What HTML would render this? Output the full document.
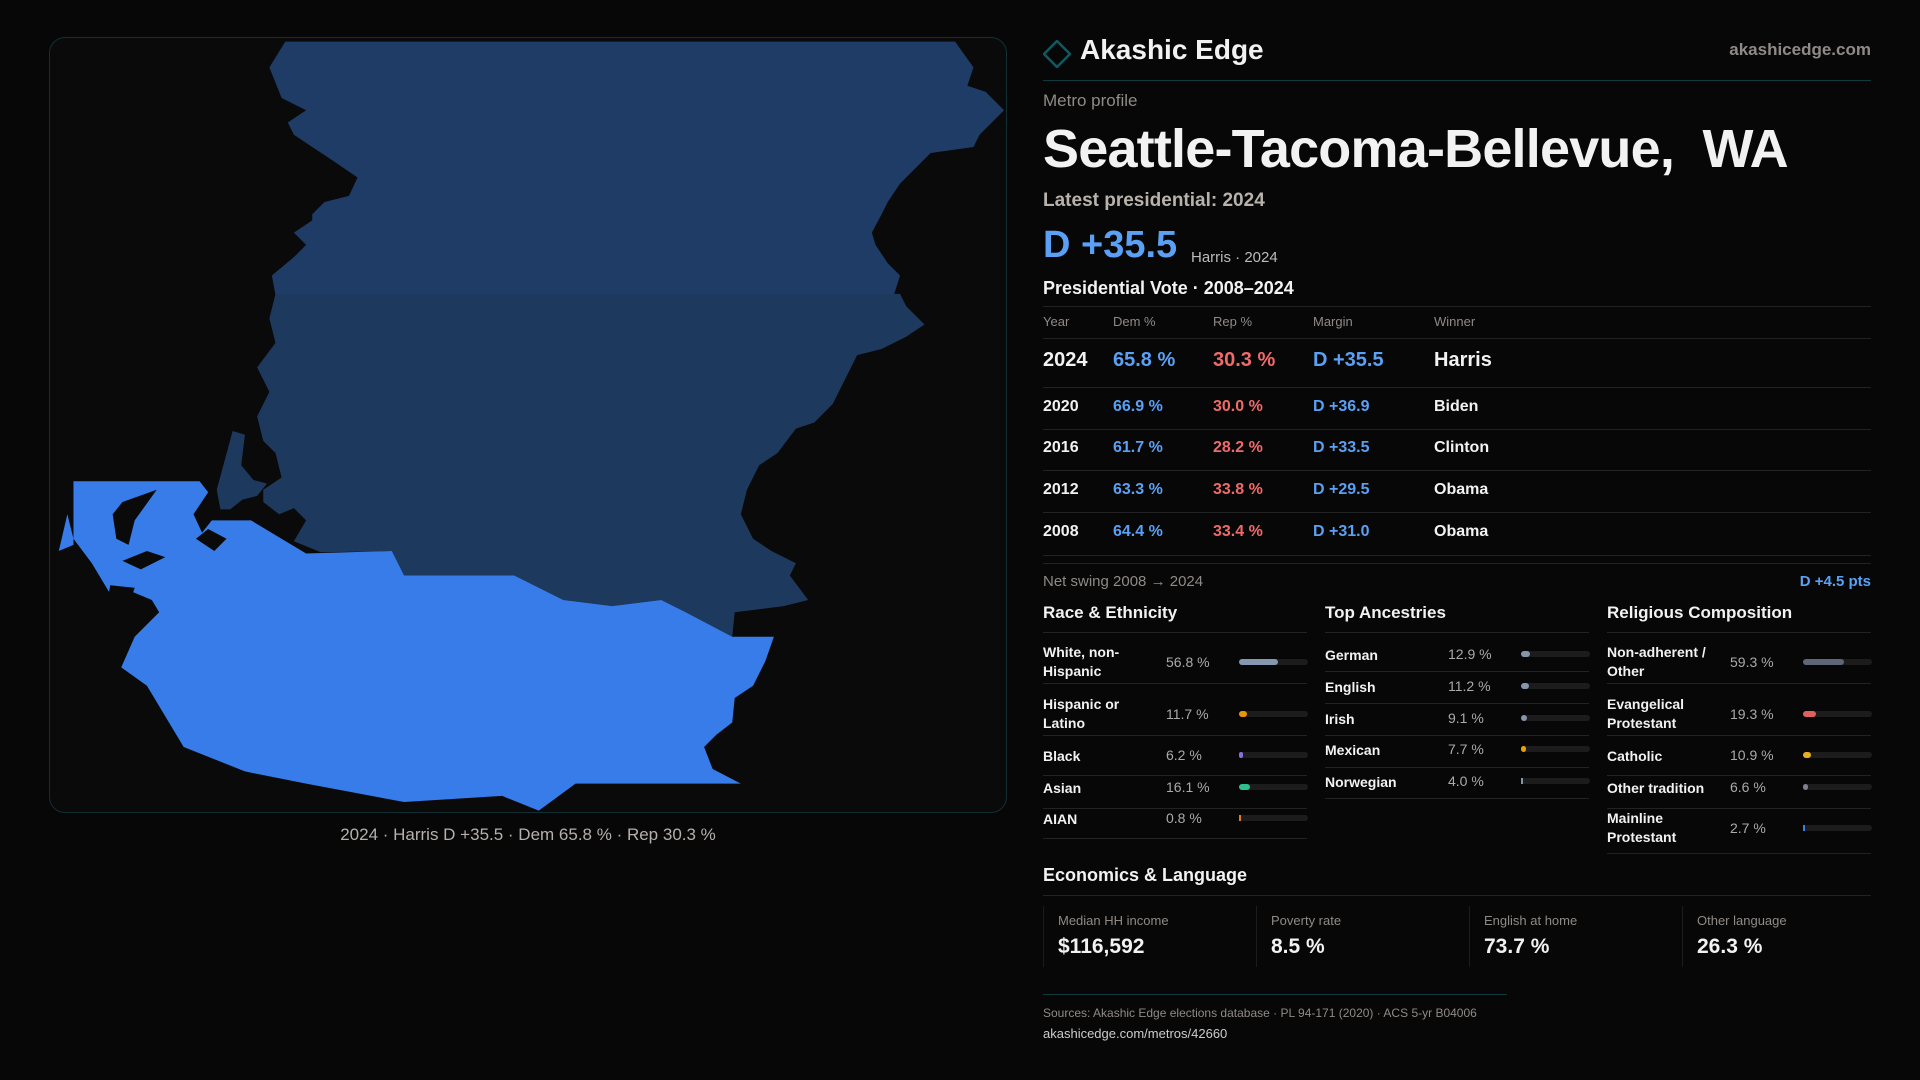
<!DOCTYPE html>
<html><head><meta charset="utf-8">
<style>
*{margin:0;padding:0;box-sizing:border-box}
body{width:1920px;height:1080px;background:#070707;font-family:"Liberation Sans",sans-serif;color:#f2f2f2;position:relative;overflow:hidden}
.a{position:absolute;white-space:nowrap}
.dim{color:#8f8a86}
.blue{color:#5aa0f5}
.red{color:#f06a6a}
.hl{position:absolute;height:1px;background:#222}
.bar{position:absolute;height:6px;border-radius:3px;background:#1c1c1c;width:69px}
.bar i{position:absolute;left:0;top:0;height:6px;border-radius:3px;display:block}
</style></head><body>
<div class="a" style="left:49px;top:37px;width:958px;height:776px;border:1px solid #123034;border-radius:16px;background:#0a0a0a"></div>
<svg style="position:absolute;left:0;top:0" width="1920" height="1080" viewBox="0 0 1568 882">
<polygon fill="#1f3c66" points="233,34 780,34 795,55 790,70 805,75 820,90 800,110 795,120 760,125 745,140 735,150 725,165 720,175 712,190 715,200 725,215 735,225 730,241 225,241 222,225 240,210 250,200 240,190 255,180 255,175 265,165 285,160 292,145 270,130 255,120 240,110 235,100 250,90 230,80 220,55"/>
<polygon fill="#1e395e" points="225,240 735,240 740,250 755,265 740,275 720,285 700,290 690,310 680,330 665,345 650,350 635,370 620,380 610,400 605,420 615,440 630,450 650,460 645,470 660,490 640,495 600,500 598,520 560,500 540,490 500,495 460,490 440,480 420,470 330,470 320,450 262,451 240,442 250,425 240,415 228,420 215,410 215,400 230,390 225,370 215,360 210,340 220,320 210,300 225,280 220,260"/>
<polygon fill="#1e395e" points="190,352 200,355 197,380 207,392 218,395 210,405 198,408 188,416 180,416 177,400"/>
<polygon fill="#377ce9" points="60,393 163,393 170,402 158,420 165,435 173,425 205,425 250,452 320,450 330,470 420,470 440,480 460,490 500,495 540,490 560,500 598,520 632,520 625,540 615,560 600,570 598,590 585,600 575,610 582,628 605,640 470,640 440,662 410,650 330,655 250,640 200,630 150,610 120,560 99,545 110,520 130,500 124,490 100,480 90,485 75,460 60,440 55,420 48,450 60,445"/>
<polygon fill="#0a0a0a" points="100,410 128,400 110,425 105,445 95,440 92,420"/>
<polygon fill="#0a0a0a" points="100,458 120,450 135,455 115,465"/>
<polygon fill="#0a0a0a" points="90,478 110,480 105,495 88,490"/>
<polygon fill="#0a0a0a" points="160,440 170,432 185,440 175,450"/>
</svg>
<div class="a" style="left:528px;top:825px;transform:translateX(-50%);font-size:17px;color:#b5b0ab">2024 · Harris D +35.5 · Dem 65.8 % · Rep 30.3 %</div>

<svg class="a" style="left:1043px;top:40px" width="28" height="28" viewBox="0 0 28 28"><polygon points="14,1 27,14 14,27 1,14" fill="none" stroke="#0f5a60" stroke-width="2.5"/></svg>
<div class="a" style="left:1080px;top:34px;font-size:28px;font-weight:bold">Akashic Edge</div>
<div class="a dim" style="right:49px;top:40px;font-size:17px;font-weight:bold">akashicedge.com</div>
<div class="hl" style="left:1043px;width:828px;top:80px;background:#0f3a3e"></div>
<div class="a dim" style="left:1043px;top:91px;font-size:17px">Metro profile</div>
<div class="a" style="left:1043px;top:118px;font-size:54px;font-weight:bold;letter-spacing:-0.8px">Seattle-Tacoma-Bellevue,&nbsp; WA</div>
<div class="a" style="left:1043px;top:190px;font-size:19px;font-weight:bold;color:#b8b2ad">Latest presidential: 2024</div>
<div class="a blue" style="left:1043px;top:224px;font-size:38px;font-weight:bold">D +35.5</div>
<div class="a" style="left:1191px;top:249px;font-size:15px;color:#bbb">Harris · 2024</div>
<div class="a" style="left:1043px;top:278px;font-size:18px;font-weight:bold">Presidential Vote · 2008–2024</div>
<div class="hl" style="left:1043px;width:828px;top:306px"></div>
<div id="vt"></div>
<div class="a dim" style="left:1043px;top:573px;font-size:15px">Net swing 2008 → 2024</div>
<div class="a blue" style="right:49px;top:573px;font-size:15px;font-weight:bold">D +4.5 pts</div>
<div id="demo"></div>
<div class="a" style="left:1043px;top:865px;font-size:18px;font-weight:bold">Economics &amp; Language</div>
<div class="hl" style="left:1043px;width:828px;top:895px"></div>
<div id="econ"></div>
<div class="hl" style="left:1043px;width:464px;top:994px;background:#0f3a3e"></div>
<div class="a dim" style="left:1043px;top:1006px;font-size:12px">Sources: Akashic Edge elections database · PL 94-171 (2020) · ACS 5-yr B04006</div>
<div class="a" style="left:1043px;top:1026px;font-size:13px;color:#ccc">akashicedge.com/metros/42660</div>
<script>
const years=[2024,2020,2016,2012,2008];
const demPct=[65.8,66.9,61.7,63.3,64.4];
const repPct=[30.3,30.0,28.2,33.8,33.4];
const winners=["Harris","Biden","Clinton","Obama","Obama"];
const raceLabels=["White, non-<br>Hispanic","Hispanic or<br>Latino","Black","Asian","AIAN"];
const raceVals=[56.8,11.7,6.2,16.1,0.8];
const ancLabels=["German","English","Irish","Mexican","Norwegian"];
const ancVals=[12.9,11.2,9.1,7.7,4.0];
const relLabels=["Non-adherent /<br>Other","Evangelical<br>Protestant","Catholic","Other tradition","Mainline<br>Protestant"];
const relVals=[59.3,19.3,10.9,6.6,2.7];
const econLabels=["Median HH income","Poverty rate","English at home","Other language"];
const econVals=["$116,592","8.5 %","73.7 %","26.3 %"];

function mk(parent,html,style,cls){const d=document.createElement('div');d.className='a '+(cls||'');d.innerHTML=html;d.style.cssText=style;parent.appendChild(d);return d;}
const vt=document.getElementById('vt');
const cols=[1043,1113,1213,1313,1434];
["Year","Dem %","Rep %","Margin","Winner"].forEach((h,i)=>{const d=mk(vt,h,`left:${cols[i]}px;top:314px;font-size:13px`,'dim');

});
const hl0=mk(vt,'','left:1043px;width:828px;top:338px','');hl0.className='hl';
const rowTops=[361,408,449,491,533],lineTops=[387,429,470,512,555];
years.forEach((y,i)=>{
 const fs=i===0?20:16,t=rowTops[i]-fs*0.6;
 const m=(demPct[i]-repPct[i]).toFixed(1);
 const vals=[y,demPct[i].toFixed(1)+' %',repPct[i].toFixed(1)+' %','D +'+m,winners[i]];
 const cl=['','blue','red','blue',''];
 vals.forEach((v,j)=>{const d=mk(vt,v,`left:${cols[j]}px;top:${t}px;font-size:${fs}px;font-weight:bold`,cl[j]);
 
 });
 const l=mk(vt,'',`left:1043px;width:828px;top:${lineTops[i]}px`,'');l.className='hl';
});
const l2=mk(vt,'','left:1043px;width:828px;top:563px','');l2.className='hl';

const demo=document.getElementById('demo');
function panel(x,title,labels,vals,colors,tops,lines){
 const h=mk(demo,title,`left:${x}px;top:603px;font-size:17px;font-weight:bold`);
 
 
 const l=mk(demo,'',`left:${x}px;width:264px;top:632px`);l.className='hl';
 labels.forEach((lb,i)=>{
  const two=lb.includes('<br>');
  const d=mk(demo,lb,`left:${x}px;top:${tops[i]-(two?19:8)}px;font-size:14px;font-weight:bold;line-height:19px`);
  
  
  const v=mk(demo,vals[i].toFixed(1)+' %',`left:${x+123}px;top:${tops[i]-8}px;font-size:14px;color:#aaa`);
  
  
  const b=document.createElement('div');b.className='bar';b.style.left=(x+196)+'px';b.style.top=(tops[i]-3)+'px';
  
  
  const f=document.createElement('i');f.style.width=Math.max(3,vals[i]/100*69)+'px';f.style.background=colors[i];
  if(vals[i]<5){f.style.width='2px';f.style.borderRadius='0';}
  b.appendChild(f);demo.appendChild(b);
  const ln=mk(demo,'',`left:${x}px;width:264px;top:${lines[i]}px`);ln.className='hl';
 });
}
panel(1043,"Race &amp; Ethnicity",raceLabels,raceVals,["#8596b0","#e8960c","#8a6ee0","#2fbf8f","#e07b20"],[662,714,755,787,818],[683,735,775,808,838]);
panel(1325,"Top Ancestries",ancLabels,ancVals,["#8595ab","#8595ab","#8595ab","#e8a00c","#8595ab"],[654,686,718,749,781],[671,703,735,767,798]);
panel(1607,"Religious Composition",relLabels,relVals,["#5e6677","#e06060","#e8b020","#7c818c","#3a7fe8"],[662,714,755,787,828],[683,735,775,808,853]);

const econ=document.getElementById('econ');
const ex=[1043,1256,1469,1682];
econLabels.forEach((lb,i)=>{
 const c=mk(econ,'',`left:${ex[i]}px;top:906px;width:1px;height:61px;background:#1c1c1c`);
 const a=mk(econ,lb,`left:${ex[i]+15}px;top:913px;font-size:13px`,'dim');
 
 
 const v=mk(econ,econVals[i],`left:${ex[i]+15}px;top:935px;font-size:21px;font-weight:bold`);
 
 
});
</script>
</body></html>
